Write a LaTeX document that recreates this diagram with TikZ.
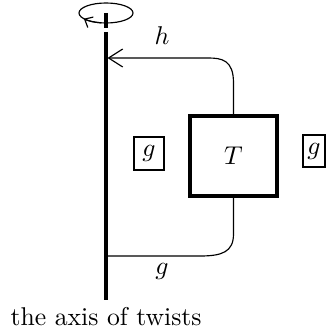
\documentclass[tikz,border=0pt]{standalone}
\usetikzlibrary{arrows.meta}
\begin{document}
\begin{tikzpicture}[x=0.389pt,y=-0.389pt,
  axisline/.style={line width=1.2pt},
  wire/.style={line width=0.45pt},
  gbox/.style={draw, line width=0.8pt, inner sep=0pt},
  tbox/.style={draw, line width=1.3pt, minimum width=33.8pt, minimum height=31.1pt, inner sep=0pt},
  lbl/.style={anchor=base, inner sep=0pt},
  bigbarb/.style={-{Straight Barb[length=5.5pt,width=7pt]}},
  smallbarb/.style={-{Straight Barb[length=2.6pt,width=4.6pt]}}]
\useasboundingbox (0,0) rectangle (331,335);
% rotation ellipse on top of the axis
\coordinate (ec) at (106,13);
\draw[wire] (ec) ellipse [x radius=27, y radius=10];
\draw[wire, smallbarb] (ec) ++(100:27 and 10) arc[start angle=100, end angle=145, x radius=27, y radius=10];
\draw[axisline] (106,13) -- (106,28);
% the axis
\coordinate (atop) at (106,32);
\coordinate (abot) at (106,300);
\draw[axisline] (atop) -- (abot);
\coordinate (hend) at (107.5,58);
\coordinate (gend) at (106,256);
% box T
\node[tbox] (T) at (233.5,156) {$T$};
% wires
\draw[wire, bigbarb] (T.north) -- (233.5,83) .. controls (233.5,60) and (222,58) .. (208,58) -- (hend);
\draw[wire] (T.south) -- (233.5,234) .. controls (233.5,252) and (222,256) .. (200,256) -- (gend);
% labels
\node[lbl] (hl) at (162,45) {$h$};
\node[lbl] (gl) at (162,274) {$g$};
\node[gbox, minimum width=11.7pt, minimum height=13.2pt] (g1) at (149,153.5) {$g$};
\node[gbox, minimum width=8.6pt, minimum height=12.5pt] (g2) at (314,151) {$g$};
\node[anchor=base west, inner sep=0pt] (cap) at (10,325) {the axis of twists};
\end{tikzpicture}
\end{document}
